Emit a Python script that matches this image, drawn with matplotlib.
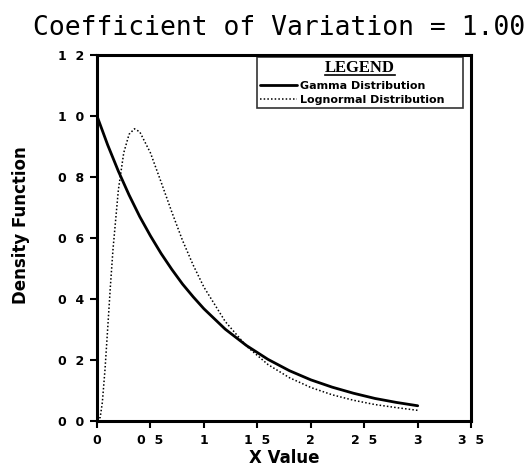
import matplotlib
matplotlib.use('Agg')
import matplotlib.pyplot as plt
from matplotlib.lines import Line2D

plt.rcParams['font.family'] = 'DejaVu Sans'

# density values at sampled x positions
gamma_x = [0.0, 0.1, 0.2, 0.3, 0.4, 0.5, 0.6, 0.7, 0.8, 0.9, 1.0,
           1.2, 1.4, 1.6, 1.8, 2.0, 2.2, 2.4, 2.6, 2.8, 3.0]
gamma_y = [1.000, 0.905, 0.819, 0.741, 0.670, 0.607, 0.549, 0.497, 0.449, 0.407, 0.368,
           0.301, 0.247, 0.202, 0.165, 0.135, 0.111, 0.091, 0.074, 0.061, 0.050]

logn_x = [0.0, 0.03, 0.05, 0.075, 0.1, 0.125, 0.15, 0.2, 0.25, 0.3, 0.35, 0.4,
          0.5, 0.6, 0.7, 0.8, 0.9, 1.0, 1.2, 1.4, 1.6, 1.8, 2.0,
          2.2, 2.4, 2.6, 2.8, 3.0]
logn_y = [0.000, 0.012, 0.061, 0.169, 0.303, 0.440, 0.564, 0.758, 0.879, 0.940, 0.958, 0.948,
          0.879, 0.783, 0.685, 0.592, 0.511, 0.439, 0.326, 0.245, 0.185, 0.142, 0.110,
          0.086, 0.068, 0.054, 0.044, 0.035]

x_ticks = [0, 0.5, 1, 1.5, 2, 2.5, 3, 3.5]
x_labels = ['0', '0  5', '1', '1  5', '2', '2  5', '3', '3  5']
y_ticks = [0, 0.2, 0.4, 0.6, 0.8, 1.0, 1.2]
y_labels = ['0  0', '0  2', '0  4', '0  6', '0  8', '1  0', '1  2']

fig = plt.figure(figsize=(5.3, 4.76), dpi=100)
ax = fig.add_axes([0.183, 0.1155, 0.706, 0.769])

ax.plot(gamma_x, gamma_y, color='black', lw=2.0, solid_capstyle='round',
        label='Gamma Distribution')
ax.plot(logn_x, logn_y, color='black', lw=1.1, linestyle=(0, (1, 1.4)),
        label='Lognormal Distribution')

ax.set_xlim(0, 3.5)
ax.set_ylim(0, 1.2)
ax.set_xticks(x_ticks)
ax.set_xticklabels(x_labels, fontsize=9, fontweight='bold')
ax.set_yticks(y_ticks)
ax.set_yticklabels(y_labels, fontsize=9, fontweight='bold')
ax.tick_params(direction='out', length=5, width=1.5, pad=4)

for s in ax.spines.values():
    s.set_linewidth(2.2)

ax.set_xlabel('X Value', fontsize=12, fontweight='bold', labelpad=2)
ax.set_ylabel('Density Function', fontsize=12, fontweight='bold')
ax.yaxis.set_label_coords(-0.179, 0.535)

fig.text(0.527, 0.941, 'Coefficient of Variation = 1.00', ha='center', va='center',
         fontsize=19, family='DejaVu Sans Mono')

leg = ax.legend(loc='upper left', bbox_to_anchor=(0.428, 0.855, 0.551, 0.14),
                mode='expand', borderaxespad=0, title='LEGEND',
                prop={'size': 8, 'weight': 'bold'},
                frameon=True, fancybox=False, edgecolor='black',
                handlelength=3.3, labelspacing=0.4, borderpad=0.3,
                handletextpad=0.3)
leg.get_title().set_fontproperties({'family': 'Liberation Serif', 'weight': 'bold', 'size': 12})
leg.get_frame().set_linewidth(1.2)

# underline the legend title
fig.canvas.draw()
bb = leg.get_title().get_window_extent().transformed(fig.transFigure.inverted())
fig.add_artist(Line2D([bb.x0, bb.x1], [bb.y0 + 0.003, bb.y0 + 0.003],
                      transform=fig.transFigure, color='black', lw=1.2))

fig.savefig('out.png', dpi=100)
